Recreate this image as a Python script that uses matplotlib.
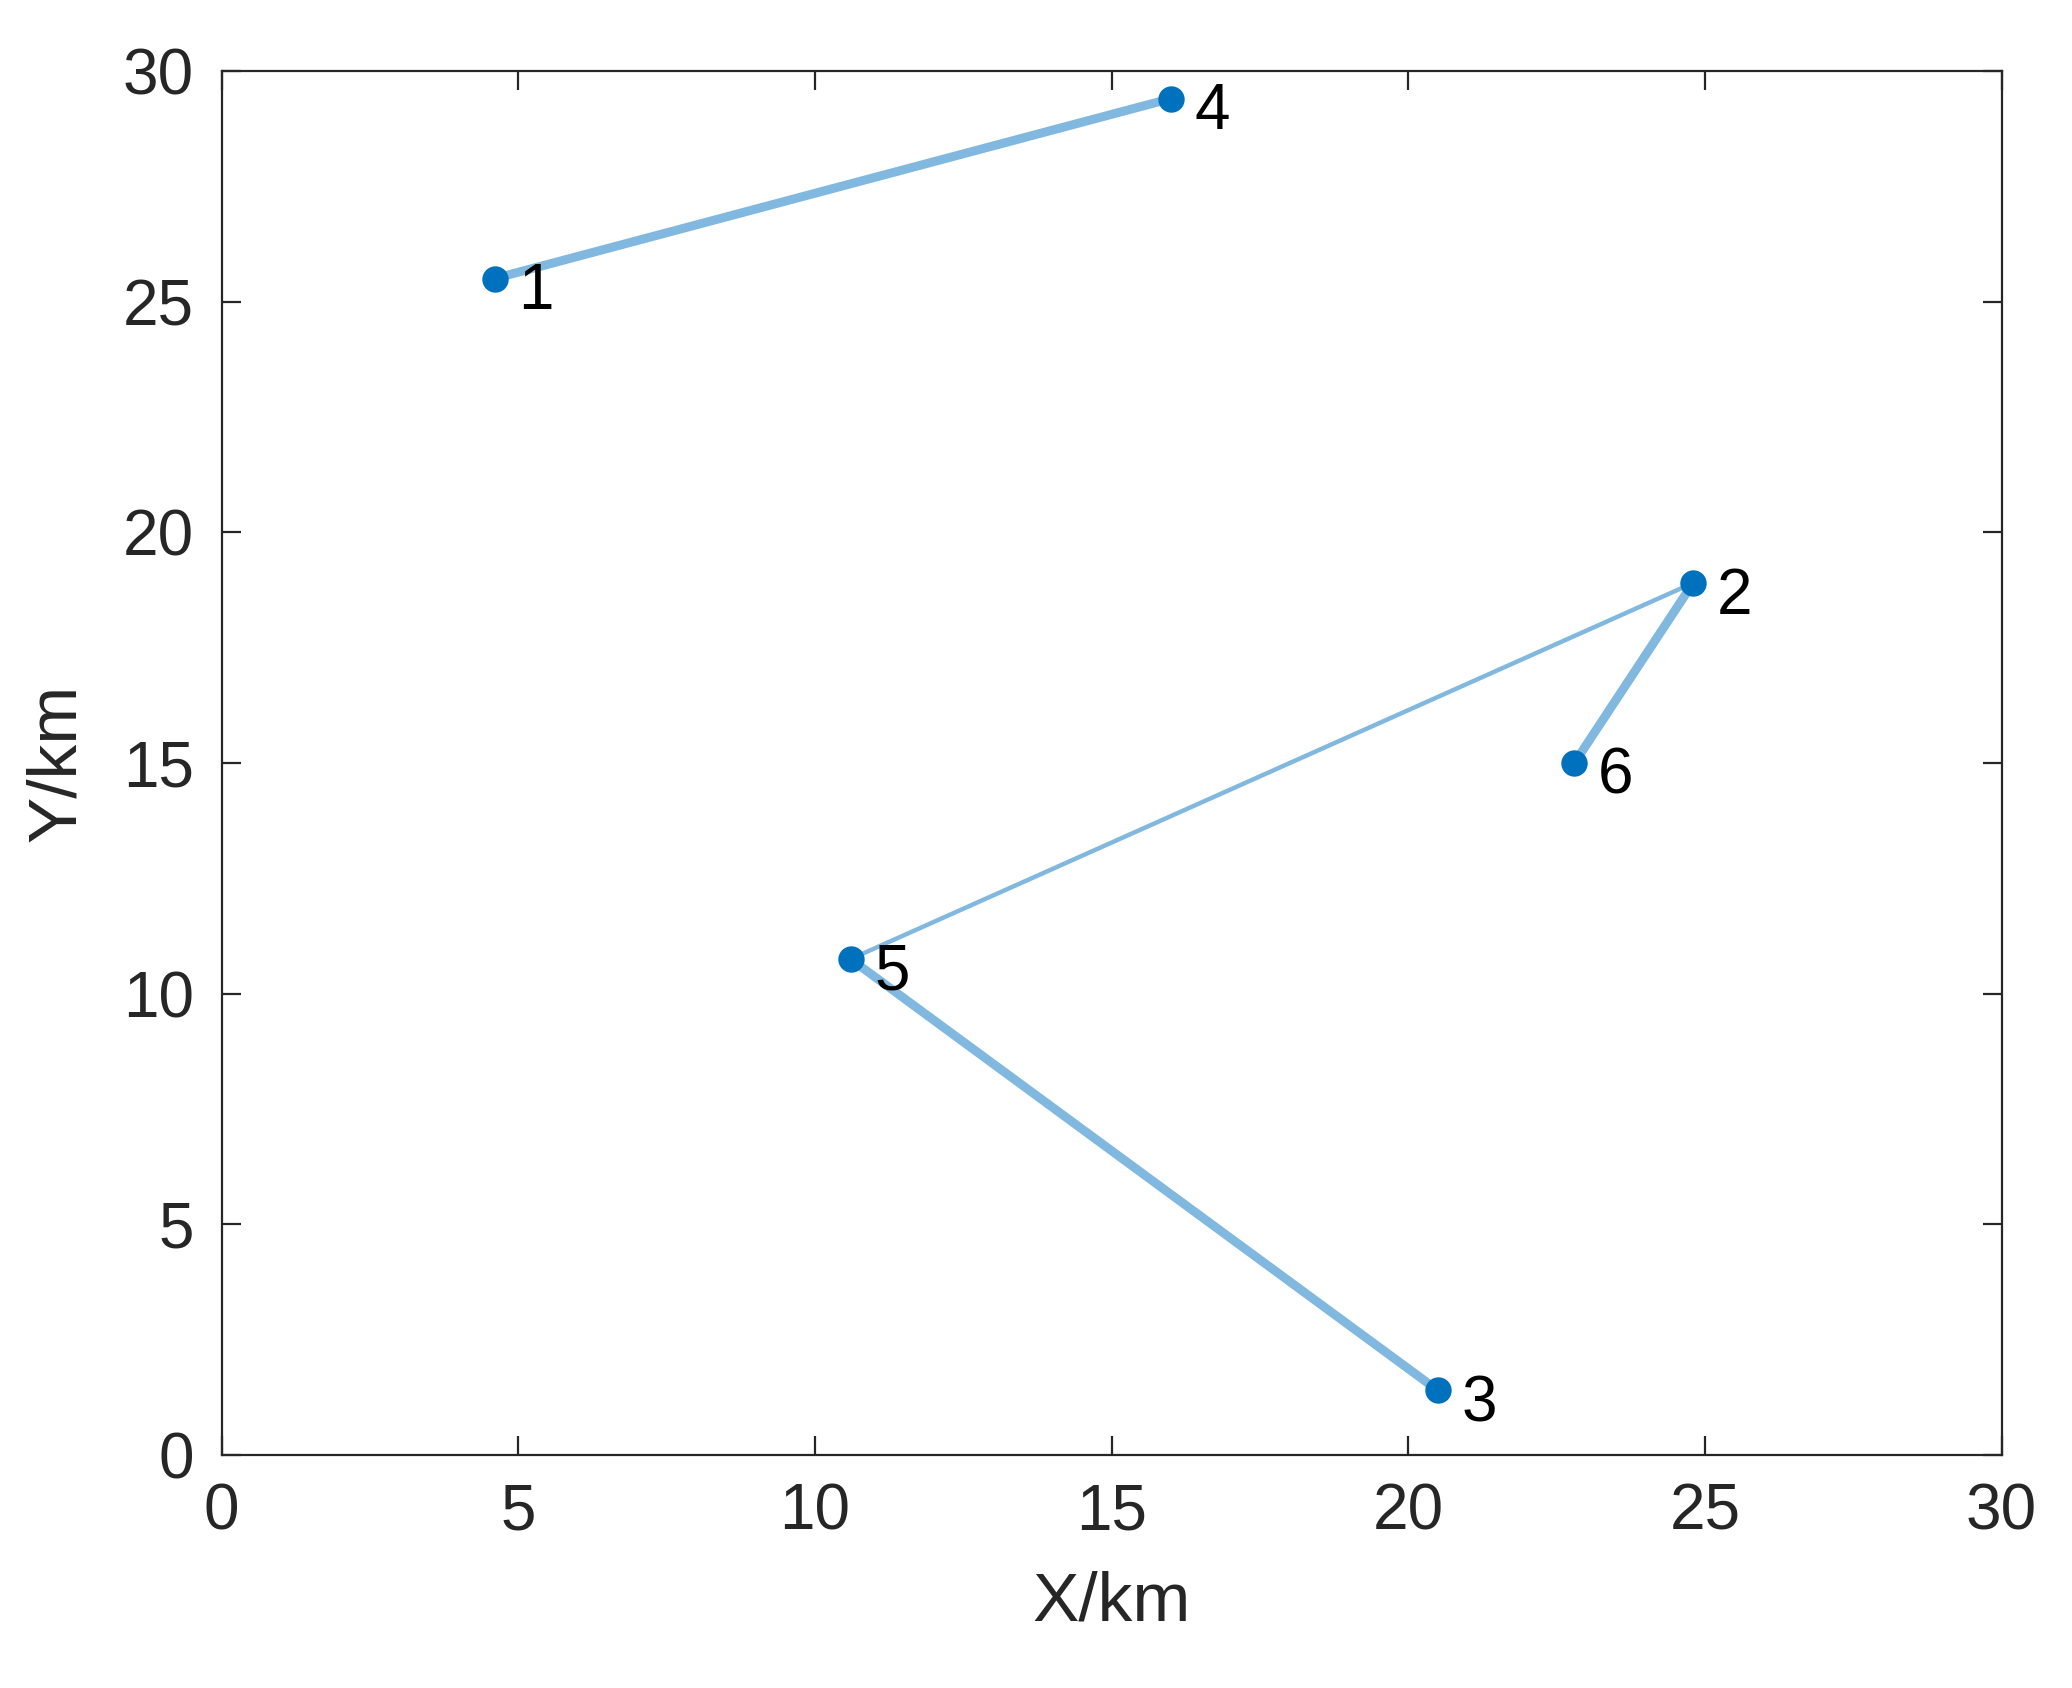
import matplotlib
matplotlib.use("Agg")
import matplotlib.pyplot as plt

plt.rcParams['font.family'] = ['Liberation Sans', 'DejaVu Sans']

# node coordinates (km)
node_ids = [1, 2, 3, 4, 5, 6]
node_x = [4.6, 24.8, 20.5, 16.0, 10.6, 22.8]
node_y = [25.5, 18.9, 1.4, 29.4, 10.75, 15.0]
# connections (from, to, width class)
edges = [(1, 4, "thick"), (2, 5, "thin"), (5, 3, "thick"), (2, 6, "thick")]

fig = plt.figure(figsize=(10.36, 8.44), dpi=200)
ax = fig.add_axes([0.107, 0.138, 0.859, 0.82])

widths = {"thick": 3.2, "thin": 1.6}
for a, b, w in edges:
    i, j = node_ids.index(a), node_ids.index(b)
    ax.plot([node_x[i], node_x[j]], [node_y[i], node_y[j]], color="#80B8E0",
            linewidth=widths[w], solid_capstyle="round", zorder=2)
ax.plot(node_x, node_y, "o", color="#0072BD", markersize=8.5, linestyle="none", zorder=3)
for n, x, y in zip(node_ids, node_x, node_y):
    ax.text(x + 0.4, y - 0.3, str(n), fontsize=23, ha="left", va="center", color="black")

ax.set_xlim(0, 30)
ax.set_ylim(0, 30)
ax.set_xticks(range(0, 31, 5))
ax.set_yticks(range(0, 31, 5))
ax.tick_params(direction="in", top=True, right=True, labelsize=23, colors="#262626",
               length=7, width=0.8, pad=10)
for s in ax.spines.values():
    s.set_color("#262626")
    s.set_linewidth(0.8)
ax.set_xlabel("X/km", fontsize=25, color="#262626", labelpad=10)
ax.set_ylabel("Y/km", fontsize=25, color="#262626", labelpad=12)

fig.savefig("out.png", dpi=200)
